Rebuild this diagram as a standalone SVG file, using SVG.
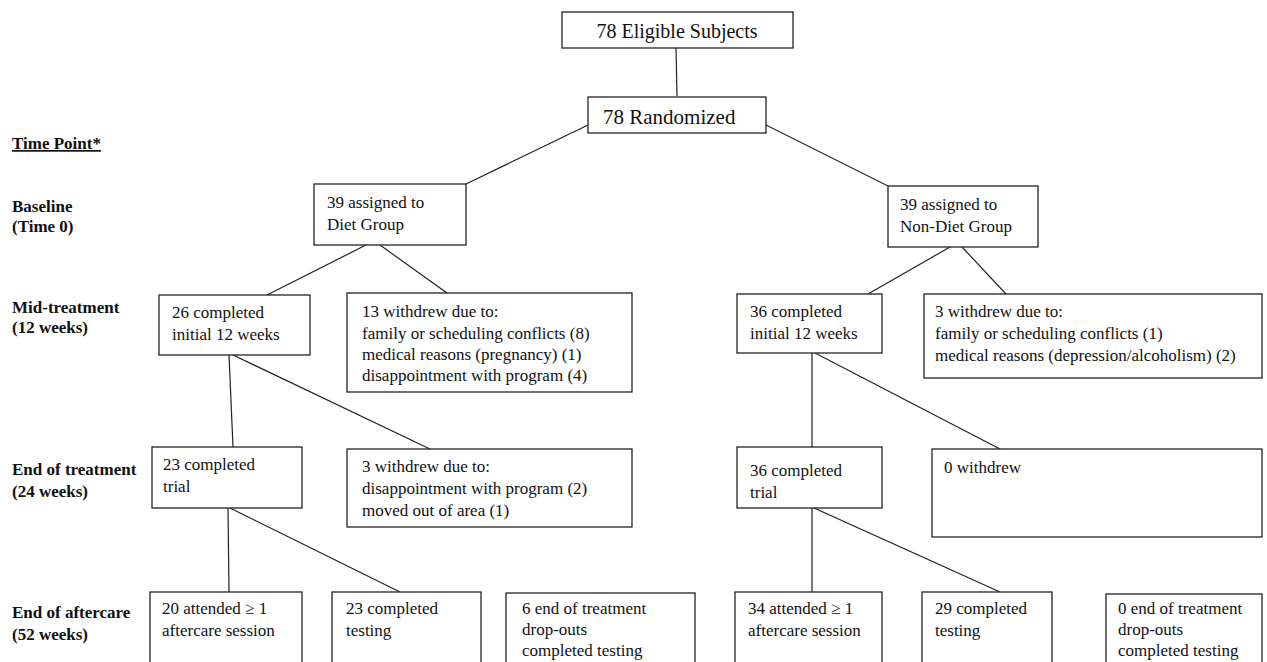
<svg xmlns="http://www.w3.org/2000/svg" width="1267" height="662" viewBox="0 0 1267 662">
<style>
.box{fill:#fff;stroke:#222;stroke-width:1.3}
.t{font-family:"Liberation Serif",serif;font-size:17px;fill:#111}
.big{font-family:"Liberation Serif",serif;font-size:20px;fill:#111}
.lab{font-family:"Liberation Serif",serif;font-size:17px;font-weight:bold;fill:#111}
.c{stroke:#222;stroke-width:1.2;fill:none}
</style>
<rect width="1267" height="662" fill="#fff"/>
<g id="connectors">
<line class="c" x1="676" y1="48" x2="677" y2="96"/>
<line class="c" x1="588" y1="125" x2="466" y2="184"/>
<line class="c" x1="766" y1="125" x2="888" y2="186"/>
<line class="c" x1="366" y1="245" x2="267" y2="295"/>
<line class="c" x1="380" y1="245" x2="447" y2="293"/>
<line class="c" x1="950" y1="247" x2="868" y2="294"/>
<line class="c" x1="962" y1="247" x2="1006" y2="294"/>
<line class="c" x1="229" y1="355" x2="233" y2="447"/>
<line class="c" x1="233" y1="355" x2="430" y2="449"/>
<line class="c" x1="812" y1="353" x2="812" y2="447"/>
<line class="c" x1="815" y1="353" x2="1000" y2="449"/>
<line class="c" x1="228" y1="508" x2="229" y2="592"/>
<line class="c" x1="230" y1="508" x2="400" y2="592"/>
<line class="c" x1="812" y1="508" x2="812" y2="592"/>
<line class="c" x1="814" y1="508" x2="1000" y2="592"/>
</g>
<g id="timepoints">
<text class="lab" x="12" y="149" text-decoration="underline">Time Point*</text>
<text class="lab" x="12" y="212">Baseline</text>
<text class="lab" x="12" y="232">(Time 0)</text>
<text class="lab" x="12" y="313">Mid-treatment</text>
<text class="lab" x="12" y="333">(12 weeks)</text>
<text class="lab" x="12" y="475">End of treatment</text>
<text class="lab" x="12" y="497">(24 weeks)</text>
<text class="lab" x="12" y="618">End of aftercare</text>
<text class="lab" x="12" y="640">(52 weeks)</text>
</g>
<g id="eligible">
<rect class="box" x="562" y="12" width="231" height="36"/>
<text class="big" x="677" y="38" text-anchor="middle">78 Eligible Subjects</text>
</g>
<g id="randomized">
<rect class="box" x="588" y="97" width="178" height="36"/>
<text class="big" x="603" y="124" style="font-size:21px">78 Randomized</text>
</g>
<g id="diet">
<rect class="box" x="314" y="184" width="152" height="61"/>
<text class="t" x="327" y="208">39 assigned to</text>
<text class="t" x="327" y="230">Diet Group</text>
</g>
<g id="nondiet">
<rect class="box" x="888" y="186" width="150" height="61"/>
<text class="t" x="900" y="210">39 assigned to</text>
<text class="t" x="900" y="232">Non-Diet Group</text>
</g>
<g id="diet-mid-completed">
<rect class="box" x="159" y="295" width="151" height="60"/>
<text class="t" x="172" y="318">26 completed</text>
<text class="t" x="172" y="340">initial 12 weeks</text>
</g>
<g id="diet-mid-withdrew">
<rect class="box" x="347" y="293" width="285" height="99"/>
<text class="t" x="362" y="317">13 withdrew due to:</text>
<text class="t" x="362" y="339">family or scheduling conflicts (8)</text>
<text class="t" x="362" y="360">medical reasons (pregnancy) (1)</text>
<text class="t" x="362" y="381">disappointment with program (4)</text>
</g>
<g id="nondiet-mid-completed">
<rect class="box" x="737" y="294" width="145" height="59"/>
<text class="t" x="750" y="317">36 completed</text>
<text class="t" x="750" y="339">initial 12 weeks</text>
</g>
<g id="nondiet-mid-withdrew">
<rect class="box" x="924" y="294" width="338" height="84"/>
<text class="t" x="935" y="317">3 withdrew due to:</text>
<text class="t" x="935" y="339">family or scheduling conflicts (1)</text>
<text class="t" x="935" y="361">medical reasons (depression/alcoholism) (2)</text>
</g>
<g id="diet-end-completed">
<rect class="box" x="152" y="447" width="150" height="61"/>
<text class="t" x="163" y="470">23 completed</text>
<text class="t" x="163" y="492">trial</text>
</g>
<g id="diet-end-withdrew">
<rect class="box" x="347" y="449" width="285" height="78"/>
<text class="t" x="362" y="472">3 withdrew due to:</text>
<text class="t" x="362" y="494">disappointment with program (2)</text>
<text class="t" x="362" y="516">moved out of area (1)</text>
</g>
<g id="nondiet-end-completed">
<rect class="box" x="737" y="447" width="145" height="61"/>
<text class="t" x="750" y="476">36 completed</text>
<text class="t" x="750" y="498">trial</text>
</g>
<g id="nondiet-end-withdrew">
<rect class="box" x="932" y="449" width="330" height="88"/>
<text class="t" x="944" y="473">0 withdrew</text>
</g>
<g id="diet-after-attended">
<rect class="box" x="150" y="592" width="152" height="80"/>
<text class="t" x="162" y="614">20 attended ≥ 1</text>
<text class="t" x="162" y="636">aftercare session</text>
</g>
<g id="diet-after-testing">
<rect class="box" x="332" y="592" width="149" height="80"/>
<text class="t" x="346" y="614">23 completed</text>
<text class="t" x="346" y="636">testing</text>
</g>
<g id="diet-after-dropouts">
<rect class="box" x="506" y="593" width="189" height="80"/>
<text class="t" x="522" y="614">6 end of treatment</text>
<text class="t" x="522" y="635">drop-outs</text>
<text class="t" x="522" y="656">completed testing</text>
</g>
<g id="nondiet-after-attended">
<rect class="box" x="735" y="592" width="147" height="80"/>
<text class="t" x="748" y="614">34 attended ≥ 1</text>
<text class="t" x="748" y="636">aftercare session</text>
</g>
<g id="nondiet-after-testing">
<rect class="box" x="922" y="592" width="130" height="80"/>
<text class="t" x="935" y="614">29 completed</text>
<text class="t" x="935" y="636">testing</text>
</g>
<g id="nondiet-after-dropouts">
<rect class="box" x="1106" y="594" width="156" height="80"/>
<text class="t" x="1118" y="614">0 end of treatment</text>
<text class="t" x="1118" y="635">drop-outs</text>
<text class="t" x="1118" y="656">completed testing</text>
</g>
</svg>
